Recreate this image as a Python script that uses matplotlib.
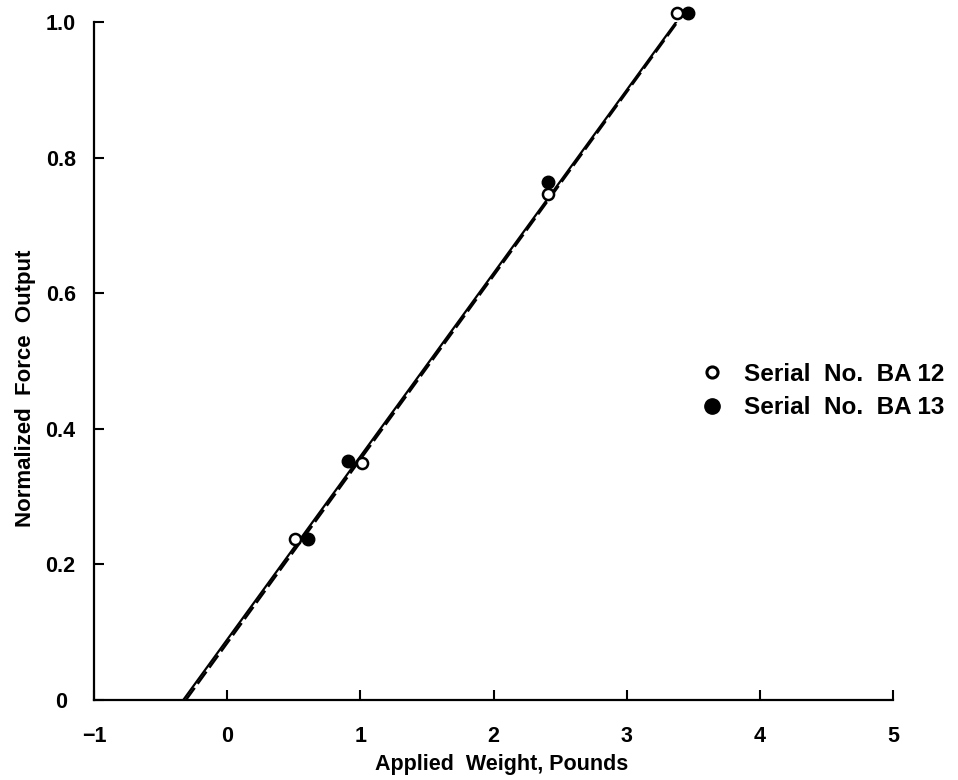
import matplotlib
matplotlib.use("Agg")
import matplotlib.pyplot as plt
from matplotlib.lines import Line2D

plt.rcParams['font.family'] = ['Liberation Sans', 'DejaVu Sans']
plt.rcParams['font.weight'] = 'bold'

# Data
ba12_x = [0.51, 1.01, 2.41, 3.38]
ba12_y = [0.237, 0.350, 0.746, 1.013]
ba13_x = [0.61, 0.91, 2.41, 3.46]
ba13_y = [0.237, 0.352, 0.764, 1.013]

fit12_x = [-0.33, 3.39]
fit12_y = [0.0, 1.005]
fit13_x = [-0.31, 3.40]
fit13_y = [0.0, 1.005]

series_labels = ["Serial  No.  BA 12", "Serial  No.  BA 13"]
x_ticks = [-1, 0, 1, 2, 3, 4, 5]
x_ticklabels = ["\u22121", "0", "1", "2", "3", "4", "5"]
y_ticks = [0, 0.2, 0.4, 0.6, 0.8, 1.0]
y_ticklabels = ["0", "0.2", "0.4", "0.6", "0.8", "1.0"]

fig = plt.figure(figsize=(9.58, 7.8), dpi=100)
ax = fig.add_axes([94/958, 1-700/780, (893-94)/958, (700-22)/780])

ax.plot(fit12_x, fit12_y, color='black', lw=1.6, solid_capstyle='butt')
ax.plot(fit13_x, fit13_y, color='black', lw=1.8, ls=(0, (6, 2)))

ax.plot(ba12_x, ba12_y, 'o', ms=8, mfc='white', mec='black', mew=1.8, clip_on=False, zorder=5)
ax.plot(ba13_x, ba13_y, 'o', ms=9, mfc='black', mec='black', clip_on=False, zorder=4)

ax.set_xlim(-1, 5)
ax.set_ylim(0, 1.0)
ax.spines['top'].set_visible(False)
ax.spines['right'].set_visible(False)
for s in ['left', 'bottom']:
    ax.spines[s].set_linewidth(1.6)

ax.set_xticks(x_ticks)
ax.set_xticklabels(x_ticklabels)
ax.set_yticks(y_ticks)
ax.set_yticklabels(y_ticklabels)
ax.tick_params(axis='both', direction='in', length=7, width=1.5, labelsize=15.5)
ax.tick_params(axis='x', pad=19)
ax.tick_params(axis='y', pad=24)
for lab in ax.get_yticklabels():
    lab.set_horizontalalignment('center')

ax.set_xlabel("Applied  Weight, Pounds", fontsize=15.5, fontweight='bold')
ax.xaxis.set_label_coords((502-94)/799, -0.08)
ax.set_ylabel("Normalized  Force  Output", fontsize=16, fontweight='bold')
ax.yaxis.set_label_coords(-0.073, 0.46)

handles = [
    Line2D([], [], marker='o', ls='none', ms=8, mfc='white', mec='black', mew=2.2),
    Line2D([], [], marker='o', ls='none', ms=11, mfc='black', mec='black'),
]
leg = fig.legend(handles, series_labels, loc='center left',
                 bbox_to_anchor=(688/958, 1-391/780), frameon=False,
                 fontsize=17.5, handlelength=1.0, handletextpad=0.8,
                 labelspacing=0.42, borderpad=0)
for t in leg.get_texts():
    t.set_fontweight('bold')

fig.savefig("out.png", dpi=100)
